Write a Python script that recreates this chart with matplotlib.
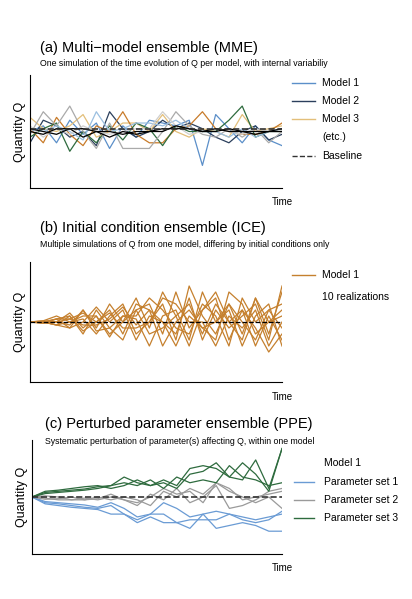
import numpy as np
import matplotlib
matplotlib.use("Agg")
import matplotlib.pyplot as plt

plt.rcParams['font.family'] = ['Liberation Sans', 'DejaVu Sans']

t = np.arange(20)

# (a) multi-model ensemble, one run per model
mme = {
    '#5b8fc9': [0.0, 0.1, -0.2, 0.2, -0.05, 0.15, -0.3, 0.1, -0.1, 0.2, 0.15, 0.1, 0.2, -0.6, 0.3, 0.05, -0.2, 0.1, -0.15, -0.25],
    '#2b3f5c': [-0.2, 0.2, 0.1, -0.1, 0.0, -0.25, 0.35, 0.05, -0.1, 0.0, 0.2, 0.05, 0.15, 0.05, -0.1, -0.2, 0.0, 0.1, -0.15, -0.05],
    '#e3bf7a': [0.25, 0.05, 0.0, 0.1, 0.3, -0.1, 0.0, 0.15, 0.15, 0.0, 0.3, 0.0, -0.1, 0.05, 0.0, -0.1, 0.3, 0.0, 0.05, 0.1],
    '#c87b2a': [0.05, -0.2, 0.25, -0.05, -0.25, 0.1, 0.0, 0.35, -0.05, -0.2, -0.2, 0.05, 0.1, 0.35, 0.05, 0.0, -0.05, -0.05, 0.0, 0.15],
    '#2e6b3e': [-0.1, 0.05, 0.15, -0.35, 0.0, -0.2, 0.1, -0.15, 0.15, 0.05, -0.25, 0.1, 0.0, 0.0, 0.0, 0.2, 0.45, -0.1, 0.0, 0.0],
    '#aaaaaa': [-0.05, 0.35, 0.1, 0.45, 0.0, -0.3, 0.15, -0.3, -0.3, -0.3, 0.0, 0.35, 0.1, -0.05, -0.1, 0.05, -0.1, 0.05, -0.2, 0.0],
    '#9bbfe0': [0.05, 0.0, 0.1, 0.0, -0.15, 0.35, 0.0, 0.05, 0.15, 0.15, 0.1, 0.2, 0.05, 0.0, 0.0, -0.1, 0.05, -0.1, 0.0, 0.05],
    '#cfcfcf': [0.1, -0.1, 0.05, -0.05, 0.1, 0.0, -0.05, 0.0, 0.05, 0.05, 0.35, 0.1, -0.05, 0.0, 0.05, 0.0, -0.05, 0.05, 0.0, 0.0],
}
mme_smooth = [
    [0.0, -0.05, 0.05, 0.05, -0.1, 0.0, 0.0, -0.05, 0.0, 0.0, 0.05, 0.05, 0.05, 0.0, 0.05, 0.0, 0.0, 0.0, 0.0, 0.0],
    [0.05, 0.0, -0.05, 0.05, 0.05, 0.0, -0.1, 0.0, -0.05, 0.0, 0.0, 0.1, 0.05, 0.0, 0.0, 0.05, 0.0, -0.05, 0.0, 0.05],
]
baseline_a = 0.05

# (b) initial condition ensemble, 10 realizations of Model 1
ice = [
    [0, 0, 0.05, -0.1, 0.2, -0.1, 0.3, 0.0, 0.4, -0.1, 0.5, 0.1, 0.3, -0.2, 0.3, 0.0, -0.3, 0.4, -0.2, 0.5],
    [0, 0, -0.05, 0.1, -0.2, 0.2, -0.1, -0.3, 0.2, 0.3, -0.2, 0.5, -0.1, 0.2, 0.4, -0.3, 0.2, -0.1, -0.5, -0.2],
    [0, 0.02, 0.1, 0.0, 0.05, -0.2, 0.1, 0.3, -0.2, 0.0, 0.3, -0.3, 0.6, 0.1, -0.2, 0.3, 0.0, -0.3, 0.2, 0.3],
    [0, -0.02, 0.0, 0.15, -0.1, 0.1, -0.25, 0.1, 0.05, -0.4, 0.1, 0.2, -0.3, 0.5, 0.0, 0.2, -0.4, 0.1, 0.3, -0.4],
    [0, 0, 0.05, 0.05, 0.15, 0.0, 0.2, -0.2, 0.3, 0.2, -0.4, 0.0, 0.2, -0.1, -0.3, 0.5, 0.3, -0.2, 0.0, 0.1],
    [0, 0, -0.05, -0.1, 0.0, 0.25, 0.0, 0.2, -0.3, 0.1, 0.0, -0.2, 0.4, -0.3, 0.2, -0.1, 0.1, 0.3, -0.3, 0.6],
    [0, 0.02, 0.0, -0.05, 0.2, -0.15, -0.1, 0.1, 0.1, 0.4, 0.2, -0.1, -0.2, 0.3, 0.1, -0.4, 0.4, 0.0, 0.2, -0.1],
    [0, -0.02, 0.05, 0.1, -0.15, 0.0, 0.15, -0.1, -0.1, 0.0, 0.4, 0.3, 0.0, 0.0, -0.4, 0.1, -0.1, 0.2, -0.4, 0.0],
    [0, 0, -0.05, 0.0, 0.1, 0.1, -0.2, 0.0, 0.2, -0.2, -0.1, 0.1, -0.4, 0.2, 0.5, 0.0, 0.2, -0.4, 0.1, -0.3],
    [0, 0, 0.0, 0.05, -0.05, -0.05, 0.05, 0.25, -0.05, 0.2, 0.0, -0.4, 0.1, -0.1, 0.0, 0.3, -0.2, 0.4, 0.0, 0.2],
]

# (c) perturbed parameter ensemble
ppe_blue = [
    [0, -0.1, -0.12, -0.15, -0.18, -0.2, -0.15, -0.3, -0.4, -0.3, -0.1, -0.2, -0.35, -0.3, -0.25, -0.3, -0.35, -0.4, -0.35, -0.3],
    [0, -0.12, -0.15, -0.18, -0.2, -0.22, -0.3, -0.3, -0.45, -0.35, -0.45, -0.45, -0.55, -0.3, -0.55, -0.5, -0.45, -0.5, -0.6, -0.6],
    [0, -0.08, -0.1, -0.12, -0.14, -0.18, -0.1, -0.2, -0.35, -0.3, -0.3, -0.45, -0.4, -0.4, -0.4, -0.3, -0.4, -0.45, -0.4, -0.25],
]
ppe_gray = [
    [0, -0.02, -0.05, -0.05, -0.02, -0.05, 0.0, -0.05, -0.1, 0.0, 0.15, 0.05, 0.1, -0.1, 0.25, 0.1, 0.0, -0.1, 0.0, -0.2],
    [0, 0.02, 0.0, -0.05, -0.05, -0.03, 0.05, -0.05, -0.15, 0.05, -0.05, 0.15, -0.1, 0.0, 0.2, -0.2, -0.15, -0.05, 0.1, 0.15],
    [0, -0.04, -0.03, 0.0, -0.05, 0.0, -0.05, 0.0, -0.05, -0.15, 0.1, 0.0, 0.15, 0.05, 0.25, 0.15, -0.05, 0.0, 0.05, 0.1],
]
ppe_green = [
    [0, 0.1, 0.12, 0.15, 0.18, 0.2, 0.15, 0.2, 0.3, 0.2, 0.3, 0.2, 0.5, 0.55, 0.5, 0.35, 0.6, 0.4, 0.1, 0.85],
    [0, 0.08, 0.1, 0.12, 0.14, 0.18, 0.2, 0.25, 0.2, 0.3, 0.15, 0.35, 0.25, 0.3, 0.25, 0.55, 0.35, 0.3, 0.2, 0.25],
    [0, 0.06, 0.08, 0.1, 0.12, 0.15, 0.2, 0.35, 0.25, 0.2, 0.25, 0.15, 0.4, 0.45, 0.6, 0.35, 0.3, 0.65, 0.15, 0.85],
]

fig = plt.figure(figsize=(4.12, 5.99), dpi=100)
W, H = 412, 599


def make_ax(x0, y0, x1, y1):
    ax = fig.add_axes([x0 / W, 1 - y1 / H, (x1 - x0) / W, (y1 - y0) / H])
    ax.set_xlim(0, 19)
    ax.set_ylim(-1, 1)
    ax.set_xticks([])
    ax.set_yticks([])
    for s in ['top', 'right']:
        ax.spines[s].set_visible(False)
    ax.spines['left'].set_linewidth(0.8)
    ax.spines['bottom'].set_linewidth(0.8)
    ax.set_ylabel('Quantity Q', fontsize=9, labelpad=3)
    ax.text(1.0, -0.08, 'Time', transform=ax.transAxes, ha='center', va='top', fontsize=7)
    return ax


def legend(ax, x0, x1, xt, entries):
    for label, yy, c, ls in entries:
        ax.text(xt, yy, label, transform=ax.transAxes, fontsize=7.5, va='center')
        if c:
            ax.plot([x0, x1], [yy, yy], transform=ax.transAxes, clip_on=False, color=c, ls=ls, lw=1)


# panel a
ax = make_ax(30, 75, 282, 188)
fig.text(40 / W, 1 - 48 / H, '(a) Multi\u2212model ensemble (MME)', fontsize=10.5, va='center')
fig.text(40 / W, 1 - 64 / H, 'One simulation of the time evolution of Q per model, with internal variabiliy',
         fontsize=6.3, va='center')
for c, v in mme.items():
    ax.plot(t, v, color=c, lw=0.9)
for v in mme_smooth:
    ax.plot(t, v, color='black', lw=0.9)
ax.axhline(baseline_a, color='#333333', ls='--', lw=1.2)
legend(ax, 1.04, 1.13, 1.16, [('Model 1', 0.93, '#5b8fc9', '-'), ('Model 2', 0.77, '#2b3f5c', '-'),
                              ('Model 3', 0.61, '#e3bf7a', '-'), ('(etc.)', 0.45, None, '-'),
                              ('Baseline', 0.28, '#333333', '--')])

# panel b
ax = make_ax(30, 262, 282, 382)
fig.text(40 / W, 1 - 228 / H, '(b) Initial condition ensemble (ICE)', fontsize=10.5, va='center')
fig.text(40 / W, 1 - 245 / H, 'Multiple simulations of Q from one model, differing by initial conditions only',
         fontsize=6.3, va='center')
for v in ice:
    ax.plot(t, v, color='#c5802e', lw=0.9)
ax.axhline(0, color='black', ls='--', lw=0.9)
legend(ax, 1.04, 1.13, 1.16, [('Model 1', 0.89, '#c5802e', '-'), ('10 realizations', 0.71, None, '-')])

# panel c
ax = make_ax(32, 440, 282, 554)
fig.text(45 / W, 1 - 424 / H, '(c) Perturbed parameter ensemble (PPE)', fontsize=10.5, va='center')
fig.text(45 / W, 1 - 441 / H, 'Systematic perturbation of parameter(s) affecting Q, within one model',
         fontsize=6.3, va='center')
for group, c in [(ppe_blue, '#6a9bd4'), (ppe_gray, '#9a9a9a'), (ppe_green, '#2e6b3e')]:
    for v in group:
        ax.plot(t, v, color=c, lw=0.9)
ax.axhline(0, color='#333333', ls='--', lw=1.2)
legend(ax, 1.05, 1.13, 1.17, [('Model 1', 0.80, None, '-'), ('Parameter set 1', 0.63, '#6a9bd4', '-'),
                              ('Parameter set 2', 0.47, '#9a9a9a', '-'), ('Parameter set 3', 0.32, '#2e6b3e', '-')])

fig.savefig('out.png', dpi=100)
